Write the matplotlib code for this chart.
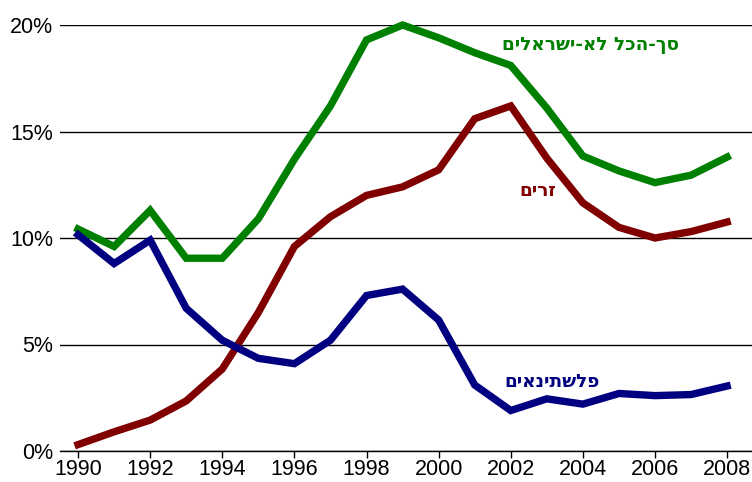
import matplotlib
matplotlib.use("Agg")
import matplotlib.pyplot as plt

plt.rcParams['font.family'] = ['Liberation Sans', 'DejaVu Sans']

years = list(range(1990, 2009))
total_non_israelis = [10.42, 9.6, 11.3, 9.05, 9.05, 10.9, 13.7, 16.2, 19.3, 20.0,
                      19.4, 18.7, 18.1, 16.1, 13.85, 13.15, 12.6, 12.95, 13.8]
foreigners = [0.3, 0.9, 1.45, 2.35, 3.85, 6.5, 9.6, 11.0, 12.0, 12.4,
              13.2, 15.6, 16.2, 13.75, 11.65, 10.5, 10.0, 10.3, 10.75]
palestinians = [10.15, 8.8, 9.9, 6.7, 5.2, 4.35, 4.1, 5.2, 7.3, 7.6,
                6.15, 3.1, 1.9, 2.45, 2.2, 2.7, 2.6, 2.65, 3.05]

label_total = "סך-הכל לא-ישראלים"
label_foreign = "זרים"
label_pal = "פלשתינאים"

xticks = list(range(1990, 2009, 2))
yticks = [0, 5, 10, 15, 20]
ytick_labels = ["0%", "5%", "10%", "15%", "20%"]

fig = plt.figure(figsize=(7.52, 4.82), dpi=100)
ax = fig.add_axes([60/752, 31/482, 692/752, 426/482])

for v in yticks:
    ax.axhline(v, color='black', lw=1.0, zorder=1)

ax.plot(years, total_non_israelis, color='#008000', lw=5.3, zorder=3, clip_on=False,
        solid_joinstyle='miter')
ax.plot(years, foreigners, color='#800000', lw=5.3, zorder=3, clip_on=False,
        solid_joinstyle='miter')
ax.plot(years, palestinians, color='#000080', lw=5.3, zorder=3, clip_on=False,
        solid_joinstyle='miter')

def vis(s):
    return s[::-1]

hfont = ['DejaVu Sans']
ax.text(2004.2, 19.06, vis(label_total), color='#008000', fontsize=13.3, fontweight='bold',
        ha='center', va='center', family=hfont)
ax.text(2002.76, 12.2, vis(label_foreign), color='#800000', fontsize=13.3, fontweight='bold',
        ha='center', va='center', family=hfont)
ax.text(2003.15, 3.24, vis(label_pal), color='#000080', fontsize=13.3, fontweight='bold',
        ha='center', va='center', family=hfont)

ax.set_xlim(1989.5, 2008.69)
ax.set_ylim(0, 20)
ax.set_xticks(xticks)
ax.set_xticklabels([str(x) for x in xticks], fontsize=15.5)
ax.set_yticks(yticks)
ax.set_yticklabels(ytick_labels, fontsize=15.5)
ax.tick_params(axis='y', length=0, pad=5)
ax.tick_params(axis='x', length=5, width=1, direction='out', pad=1)
for s in ['top', 'right', 'left']:
    ax.spines[s].set_visible(False)
ax.spines['bottom'].set_linewidth(1.0)

fig.savefig("out.png", dpi=100)
